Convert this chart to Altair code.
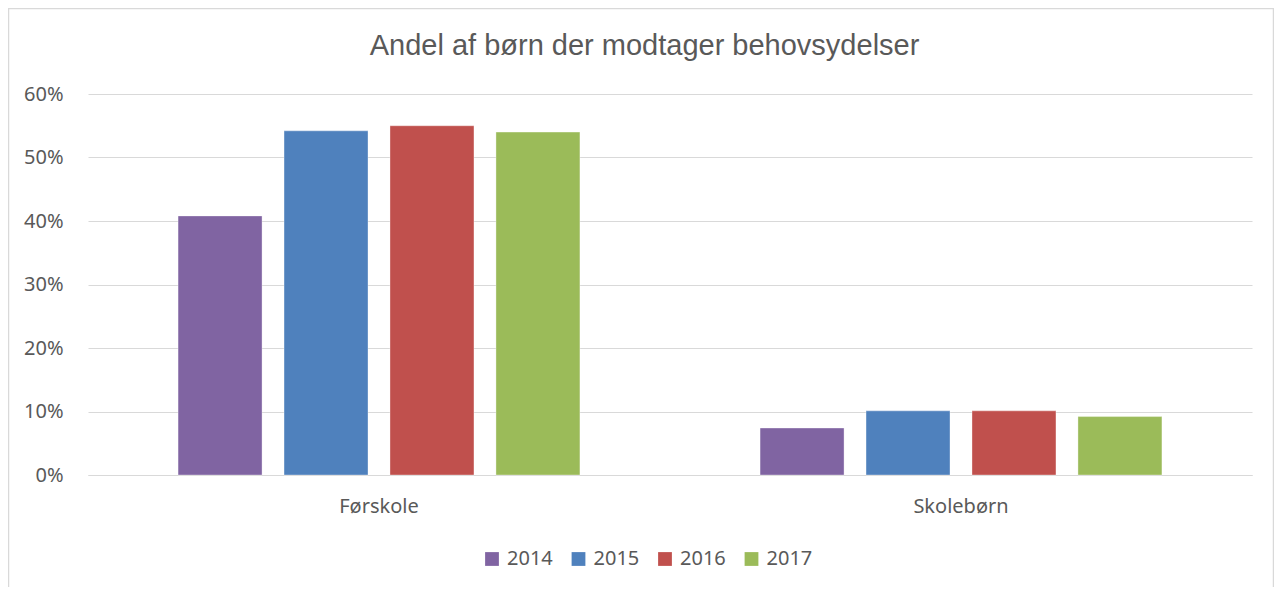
import altair as alt
import pandas as pd

categories = ["Førskole", "Skolebørn"]
years = ["2014", "2015", "2016", "2017"]
forskole = [0.408, 0.542, 0.550, 0.540]
skoleborn = [0.074, 0.101, 0.101, 0.092]
colors = ["#8064A2", "#4F81BD", "#C0504D", "#9BBB59"]
y_ticks = [0, 0.1, 0.2, 0.3, 0.4, 0.5, 0.6]
title_text = "Andel af børn der modtager behovsydelser"

rows = []
for cat, vals in zip(categories, [forskole, skoleborn]):
    for yr, v in zip(years, vals):
        rows.append({"Kategori": cat, "År": yr, "Andel": v})
df = pd.DataFrame(rows)

TXT = "#595959"
GRID = "#D9D9D9"

bars = alt.Chart(df).mark_bar(stroke="white", strokeOpacity=0.35, strokeWidth=1).encode(
    x=alt.X("Kategori:N", sort=categories, title=None,
            scale=alt.Scale(paddingInner=0, paddingOuter=0),
            axis=alt.Axis(labelAngle=0, labelFontSize=20, labelColor=TXT, labelFont="Noto Sans",
                          ticks=False, domainColor=GRID, domainWidth=1, labelPadding=21)),
    xOffset=alt.XOffset("År:N", sort=years, scale=alt.Scale(paddingInner=0.2075, paddingOuter=0.85)),
    y=alt.Y("Andel:Q", title=None,
            scale=alt.Scale(domain=[0, 0.6], nice=False),
            axis=alt.Axis(values=y_ticks, format=".0%", labelFontSize=20, labelColor=TXT,
                          labelFont="Noto Sans", ticks=False, domain=False, gridColor=GRID,
                          gridWidth=1, labelPadding=25)),
    color=alt.Color("År:N", sort=years, title=None,
                    scale=alt.Scale(domain=years, range=colors),
                    legend=alt.Legend(orient="none", direction="horizontal", legendX=394, legendY=455,
                                      padding=0, symbolType="square", symbolSize=190,
                                      symbolStrokeWidth=0, labelFontSize=20, labelColor=TXT,
                                      labelFont="Noto Sans", columnPadding=15.5, labelOffset=5)),
)

title = alt.Chart(alt.Data(values=[{"t": title_text}])).mark_text(
    font="Liberation Sans", fontSize=29, color=TXT, align="center", baseline="alphabetic"
).encode(text="t:N", x=alt.value(556.5), y=alt.value(-39))

border = alt.Chart(alt.Data(values=[{}])).mark_rect(filled=False, stroke=GRID, strokeWidth=1.5).encode(
    x=alt.value(-79.5), x2=alt.value(1185.5), y=alt.value(-85.5), y2=alt.value(700)
)

chart = alt.layer(border, bars, title).properties(
    width=1164, height=381,
    autosize=alt.AutoSizeParams(type="none"),
    padding={"left": 80, "top": 86, "right": 22, "bottom": 112},
).configure_view(stroke=None)

chart.save("out.html", embed_options={"renderer": "svg", "actions": False})
